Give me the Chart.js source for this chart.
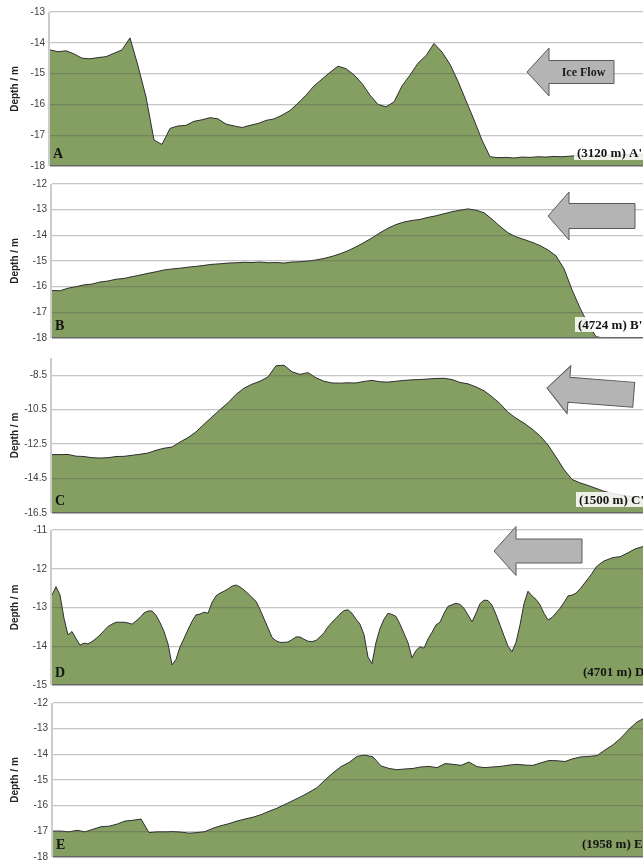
<!DOCTYPE html>
<html>
<head>
<meta charset="utf-8">
<script src="https://cdn.jsdelivr.net/npm/chart.js@4.4.1/dist/chart.umd.min.js"></script>
<style>
  html, body { margin: 0; padding: 0; background: #fff; }
  body { width: 643px; height: 861px; overflow: hidden; position: relative; }
  .panel { position: absolute; left: 0; }
</style>
</head>
<body>
<div class="panel" id="pA"><canvas id="cA"></canvas></div>
<div class="panel" id="pB"><canvas id="cB"></canvas></div>
<div class="panel" id="pC"><canvas id="cC"></canvas></div>
<div class="panel" id="pD"><canvas id="cD"></canvas></div>
<div class="panel" id="pE"><canvas id="cE"></canvas></div>
<script>
// profile lengths (m) and panel letters
const profileLengths = [3120, 4724, 1500, 4701, 1958];
const panelLetters = ['A', 'B', 'C', 'D', 'E'];

// depths along each profile, equally spaced from start to end (m)
const depthA = [-14.23, -14.29, -14.26, -14.36, -14.50, -14.52, -14.48, -14.45, -14.34, -14.23,
  -13.84, -14.75, -15.76, -17.16, -17.30, -16.78, -16.70, -16.68, -16.55, -16.50,
  -16.43, -16.47, -16.64, -16.70, -16.75, -16.68, -16.62, -16.52, -16.47, -16.35,
  -16.20, -15.96, -15.70, -15.40, -15.18, -14.96, -14.76, -14.84, -15.04, -15.32,
  -15.70, -16.00, -16.08, -15.92, -15.40, -15.05, -14.66, -14.42, -14.02, -14.30,
  -14.70, -15.25, -15.88, -16.50, -17.16, -17.70, -17.73, -17.72, -17.74, -17.71,
  -17.72, -17.70, -17.71, -17.69, -17.70, -17.68, -17.66, -17.68, -17.65, -17.66,
  -17.64, -17.65, -17.63, -17.62, -17.62, -17.60];

const depthB = [-16.15, -16.16, -16.06, -16.00, -15.93, -15.90, -15.82, -15.78, -15.71, -15.68,
  -15.61, -15.55, -15.48, -15.42, -15.35, -15.31, -15.28, -15.24, -15.21, -15.17,
  -15.13, -15.11, -15.08, -15.07, -15.05, -15.06, -15.04, -15.07, -15.06, -15.08,
  -15.04, -15.03, -15.00, -14.96, -14.90, -14.82, -14.72, -14.60, -14.45, -14.28,
  -14.10, -13.90, -13.72, -13.58, -13.48, -13.42, -13.38, -13.30, -13.24, -13.16,
  -13.08, -13.02, -12.97, -13.02, -13.12, -13.37, -13.65, -13.90, -14.06, -14.16,
  -14.27, -14.40, -14.57, -14.80, -15.30, -16.12, -16.83, -17.45, -17.95, -18,
  -18, -18, -18, -18, -18, -18];

const depthC = [-13.11, -13.11, -13.10, -13.20, -13.22, -13.29, -13.31, -13.29, -13.22, -13.21,
  -13.15, -13.09, -13.02, -12.86, -12.74, -12.67, -12.38, -12.12, -11.79, -11.35,
  -10.92, -10.50, -10.10, -9.62, -9.25, -9.02, -8.85, -8.60, -7.95, -7.92,
  -8.30, -8.45, -8.35, -8.65, -8.85, -8.95, -8.96, -8.94, -8.95, -8.86,
  -8.80, -8.88, -8.90, -8.85, -8.80, -8.77, -8.75, -8.72, -8.69, -8.68,
  -8.75, -8.92, -9.00, -9.18, -9.40, -9.75, -10.15, -10.65, -11.00, -11.28,
  -11.62, -12.02, -12.55, -13.25, -13.98, -14.55, -14.75, -14.90, -15.07, -15.24,
  -15.36, -15.44, -15.52, -15.58, -15.64, -15.70];

const depthD = [-12.68, -12.46, -12.68, -13.28, -13.71, -13.62, -13.80, -13.97, -13.92, -13.94,
  -13.88, -13.80, -13.71, -13.60, -13.49, -13.43, -13.38, -13.38, -13.38, -13.40,
  -13.43, -13.35, -13.26, -13.14, -13.09, -13.09, -13.20, -13.39, -13.62, -13.94,
  -14.48, -14.34, -14.02, -13.80, -13.57, -13.36, -13.19, -13.17, -13.12, -13.15,
  -12.87, -12.70, -12.63, -12.58, -12.52, -12.45, -12.42, -12.47, -12.55, -12.64,
  -12.74, -12.84, -13.05, -13.29, -13.53, -13.77, -13.86, -13.90, -13.90, -13.89,
  -13.83, -13.76, -13.76, -13.82, -13.87, -13.88, -13.85, -13.76, -13.65, -13.50,
  -13.38, -13.28, -13.17, -13.08, -13.06, -13.15, -13.30, -13.43, -13.70, -14.28,
  -14.45, -13.90, -13.54, -13.30, -13.15, -13.18, -13.23, -13.43, -13.67, -13.91,
  -14.30, -14.11, -14.01, -14.05, -13.81, -13.64, -13.45, -13.38, -13.15, -12.97,
  -12.93, -12.89, -12.92, -13.02, -13.19, -13.37, -13.15, -12.90, -12.81, -12.82,
  -12.94, -13.18, -13.45, -13.73, -14.00, -14.14, -13.90, -13.45, -12.90, -12.58,
  -12.70, -12.79, -12.93, -13.15, -13.32, -13.26, -13.14, -13.02, -12.87, -12.70,
  -12.68, -12.63, -12.52, -12.39, -12.26, -12.12, -11.96, -11.87, -11.80, -11.76,
  -11.72, -11.70, -11.69, -11.64, -11.59, -11.53, -11.48, -11.45, -11.42, -11.40,
  -11.38];

const depthE = [-16.99, -16.99, -17.02, -16.96, -17.02, -16.92, -16.82, -16.80, -16.72, -16.60,
  -16.57, -16.52, -17.05, -17.02, -17.02, -17.01, -17.03, -17.07, -17.05, -17.01,
  -16.88, -16.78, -16.70, -16.60, -16.52, -16.45, -16.35, -16.22, -16.10, -15.95,
  -15.80, -15.65, -15.48, -15.30, -15.00, -14.72, -14.48, -14.32, -14.08, -14.03,
  -14.10, -14.45, -14.55, -14.60, -14.57, -14.55, -14.49, -14.47, -14.52, -14.36,
  -14.39, -14.43, -14.30, -14.48, -14.52, -14.49, -14.47, -14.42, -14.39, -14.42,
  -14.43, -14.33, -14.24, -14.25, -14.28, -14.17, -14.10, -14.08, -14.05, -13.83,
  -13.63, -13.36, -13.02, -12.74, -12.58, -12.48];

// y tick labels per panel
const ticksA = [-18, -17, -16, -15, -14, -13];
const ticksB = [-18, -17, -16, -15, -14, -13, -12];
const ticksC = [-16.5, -14.5, -12.5, -10.5, -8.5];
const ticksD = [-15, -14, -13, -12, -11];
const ticksE = [-18, -17, -16, -15, -14, -13, -12];
const axisMax = [-13, -12, -7.5, -11, -12];

const GREEN = '#859f62';
const CANVAS_W = 680;

// page geometry of each plot area
const panels = [
  { id: 'A', depth: depthA, ticks: ticksA, top: 12, bottom: 166, left: 50, labelX: 577, box: true,
    arrow: { tipX: 527, tipY: 72, headX: 549, headHalf: 24, bodyHalf: 11.5, rightX: 614, angle: 0, text: 'Ice Flow' } },
  { id: 'B', depth: depthB, ticks: ticksB, top: 184, bottom: 338, left: 52, labelX: 578, box: true,
    arrow: { tipX: 548, tipY: 216, headX: 569, headHalf: 24, bodyHalf: 12.5, rightX: 635, angle: 0 } },
  { id: 'C', depth: depthC, ticks: ticksC, top: 358, bottom: 513, left: 52, labelX: 579, box: true,
    arrow: { tipX: 547, tipY: 388, headX: 569, headHalf: 24, bodyHalf: 12.5, rightX: 634, angle: 4.5 } },
  { id: 'D', depth: depthD, ticks: ticksD, top: 530, bottom: 685, left: 52, labelX: 583, box: false,
    arrow: { tipX: 494, tipY: 551, headX: 516, headHalf: 24.5, bodyHalf: 12, rightX: 582, angle: 0 } },
  { id: 'E', depth: depthE, ticks: ticksE, top: 703, bottom: 857, left: 53, labelX: 582, box: false,
    arrow: null }
];

const overlay = {
  id: 'overlay',
  // left axis line (the built-in border ends up at x=0 with the forced width)
  beforeDatasetsDraw(chart) {
    const { ctx, chartArea: area } = chart;
    ctx.save();
    ctx.strokeStyle = '#cccccc';
    ctx.lineWidth = 2;
    ctx.beginPath();
    ctx.moveTo(area.left - 1, area.top);
    ctx.lineTo(area.left - 1, area.bottom);
    ctx.stroke();
    ctx.restore();
  },
  afterDraw(chart, args, opts) {
    const { ctx, chartArea: area } = chart;
    ctx.save();
    ctx.fillStyle = '#141414';
    ctx.textAlign = 'left';
    ctx.textBaseline = 'alphabetic';
    ctx.font = 'bold 14px "Liberation Serif"';
    ctx.fillText(opts.letter, area.left + 3, area.bottom - 8);

    ctx.font = 'bold 13px "Liberation Serif"';
    const w = ctx.measureText(opts.endLabel).width;
    if (opts.box) {
      ctx.fillStyle = 'rgba(255,255,255,0.85)';
      ctx.fillRect(opts.labelX - 3, area.bottom - 21, w + 6, 15);
    }
    ctx.fillStyle = '#141414';
    ctx.fillText(opts.endLabel, opts.labelX, area.bottom - 9);

    const a = opts.arrow;
    if (a) {
      ctx.translate(a.tipX, a.tipY - opts.pageTop);
      ctx.rotate(a.angle * Math.PI / 180);
      const L = a.rightX - a.tipX, H = a.headX - a.tipX;
      ctx.beginPath();
      ctx.moveTo(0, 0);
      ctx.lineTo(H, -a.headHalf);
      ctx.lineTo(H, -a.bodyHalf);
      ctx.lineTo(L, -a.bodyHalf);
      ctx.lineTo(L, a.bodyHalf);
      ctx.lineTo(H, a.bodyHalf);
      ctx.lineTo(H, a.headHalf);
      ctx.closePath();
      ctx.fillStyle = '#b4b4b4';
      ctx.fill();
      ctx.lineWidth = 1;
      ctx.strokeStyle = '#5a5a5a';
      ctx.stroke();
      if (a.text) {
        ctx.fillStyle = '#1a1a1a';
        ctx.font = 'bold 12px "Liberation Serif"';
        ctx.textAlign = 'center';
        ctx.textBaseline = 'middle';
        ctx.fillText(a.text, (H + L) / 2 + 2, 1);
      }
    }
    ctx.restore();
  }
};

panels.forEach((p, k) => {
  const pad = 14;
  const pageTop = p.top - pad;
  const h = p.bottom - p.top + 2 * pad;
  const div = document.getElementById('p' + p.id);
  div.style.top = pageTop + 'px';
  const canvas = document.getElementById('c' + p.id);
  canvas.width = CANVAS_W;
  canvas.height = h;
  canvas.style.width = CANVAS_W + 'px';
  canvas.style.height = h + 'px';

  const len = profileLengths[k];
  const n = p.depth.length;
  const points = p.depth.map((d, i) => ({ x: i * len / (n - 1), y: d }));

  new Chart(canvas, {
    type: 'line',
    data: {
      datasets: [{
        data: points,
        borderColor: '#2e2e2e',
        borderWidth: 1,
        backgroundColor: GREEN,
        fill: 'start',
        pointRadius: 0,
        tension: 0
      }]
    },
    options: {
      responsive: false,
      animation: false,
      layout: { padding: { top: pad, bottom: pad, left: 0, right: CANVAS_W - (p.left + 600) } },
      plugins: {
        legend: { display: false },
        tooltip: { enabled: false },
        overlay: {
          letter: panelLetters[k],
          endLabel: '(' + len + ' m) ' + panelLetters[k] + "'",
          labelX: p.labelX,
          box: p.box,
          arrow: p.arrow,
          pageTop: pageTop
        }
      },
      scales: {
        x: { type: 'linear', min: 0, max: len, display: false },
        y: {
          min: p.ticks[0],
          max: axisMax[k],
          afterBuildTicks: (scale) => { scale.ticks = p.ticks.map(v => ({ value: v })); },
          afterFit: (scale) => { scale.width = p.left; },
          grid: {
            z: 1,
            drawTicks: false,
            color: c => c.index === 0 ? '#666666' : 'rgba(80,80,80,0.33)',
            lineWidth: c => c.index === 0 ? 1.5 : 1.3
          },
          border: { display: false },
          ticks: {
            padding: 5,
            color: '#404040',
            font: { family: '"Liberation Sans", sans-serif', size: 10 },
            callback: v => String(v)
          },
          title: {
            display: true,
            text: 'Depth / m',
            color: '#222222',
            font: { family: '"Liberation Sans", sans-serif', size: 10, weight: 'bold', lineHeight: 1.2 },
            padding: { top: 9, bottom: 0 }
          }
        }
      }
    },
    plugins: [overlay]
  });
});
</script>
</body>
</html>
